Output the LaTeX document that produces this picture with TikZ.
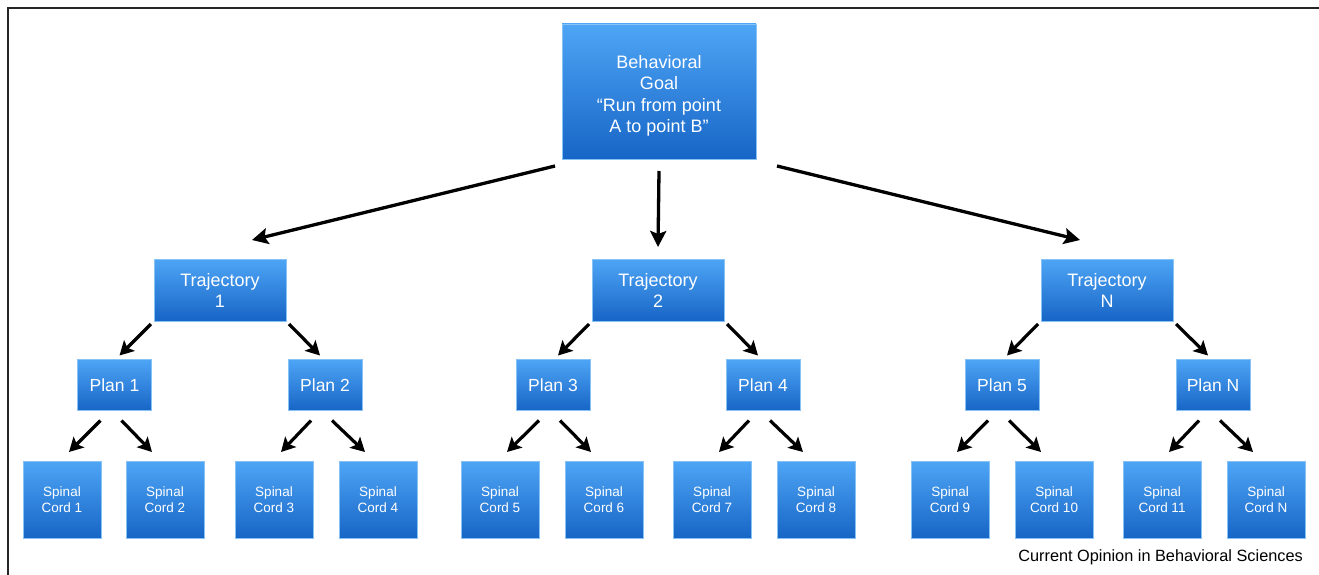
\documentclass[tikz,border=0pt]{standalone}
\usepackage{fontspec}
\setmainfont{Liberation Sans}
\usetikzlibrary{arrows.meta}
\definecolor{btop}{HTML}{4EA5F5}
\definecolor{bbot}{HTML}{1765C6}
\definecolor{bedge}{HTML}{86C2F5}
\tikzset{
  box/.style={draw=bedge, line width=0.8pt, top color=btop, bottom color=bbot,
    text=white, align=center, inner sep=0pt, outer sep=0pt},
  goalbox/.style={box, minimum width=194, minimum height=135, font=\fontsize{18}{21.5}\selectfont},
  trajbox/.style={box, minimum width=132, minimum height=62, font=\fontsize{18}{21}\selectfont},
  planbox/.style={box, minimum width=74, minimum height=51, font=\fontsize{17.5}{21}\selectfont},
  cordbox/.style={box, minimum width=78, minimum height=77, font=\fontsize{13.5}{16}\selectfont},
  arr/.style={line width=3.3pt, -{Stealth[length=16pt,width=16pt,inset=3pt]}},
  sarr/.style={line width=3.2pt, -{Stealth[length=14pt,width=15pt,inset=3pt]}},
}
\begin{document}
\begin{tikzpicture}[x=1pt,y=-1pt]
\useasboundingbox (0,0) rectangle (1319,575);
% frame
\draw[line width=1.6pt, black!85] (8,575) -- (8,8) -- (1319,8);
% goal
\node[goalbox] (goal) at (659,91.5) {\rule{0pt}{22pt}Behavioral\\Goal\\“Run from point\\A to point B”};
% trajectories
\node[trajbox] (t1) at (220,290) {Trajectory\\1};
\node[trajbox] (t2) at (658,290) {Trajectory\\2};
\node[trajbox] (tn) at (1107,290) {Trajectory\\N};
% plans
\node[planbox] (p1) at (114.5,385) {Plan 1};
\node[planbox] (p2) at (325,385) {Plan 2};
\node[planbox] (p3) at (553,385) {Plan 3};
\node[planbox] (p4) at (763,385) {Plan 4};
\node[planbox] (p5) at (1002,385) {Plan 5};
\node[planbox] (pn) at (1213,385) {Plan N};
% spinal cords
\node[cordbox] (s1) at (62,499.5) {Spinal\\Cord 1};
\node[cordbox] (s2) at (165,499.5) {Spinal\\Cord 2};
\node[cordbox] (s3) at (274,499.5) {Spinal\\Cord 3};
\node[cordbox] (s4) at (378,499.5) {Spinal\\Cord 4};
\node[cordbox] (s5) at (500,499.5) {Spinal\\Cord 5};
\node[cordbox] (s6) at (604,499.5) {Spinal\\Cord 6};
\node[cordbox] (s7) at (712,499.5) {Spinal\\Cord 7};
\node[cordbox] (s8) at (816,499.5) {Spinal\\Cord 8};
\node[cordbox] (s9) at (950,499.5) {Spinal\\Cord 9};
\node[cordbox] (s10) at (1054,499.5) {Spinal\\Cord 10};
\node[cordbox] (s11) at (1162,499.5) {Spinal\\Cord 11};
\node[cordbox] (sn) at (1266,499.5) {Spinal\\Cord N};
% caption
\node[anchor=east, font=\fontsize{16.3}{18}\selectfont, inner sep=0pt] (cap) at (1303,557) {Current Opinion in Behavioral Sciences};
% goal arrows
\draw[arr] ([shift={(-7,7)}]goal.south west) -- ([shift={(32,-19)}]t1.north);
\draw[arr] ([shift={(0,12)}]goal.south) -- ([shift={(0,-12)}]t2.north);
\draw[arr] ([shift={(21,7)}]goal.south east) -- ([shift={(-27,-19)}]tn.north);
% trajectory to plans
\foreach \t/\l/\r in {t1/p1/p2, t2/p3/p4, tn/p5/pn}{
  \draw[sarr] ([shift={(-3,3)}]\t.south west) -- ([shift={(5,-4)}]\l.north);
  \draw[sarr] ([shift={(3,3)}]\t.south east) -- ([shift={(-5,-4)}]\r.north);
}
% plans to spinal cords
\foreach \p/\l/\r in {p1/s1/s2, p2/s3/s4, p3/s5/s6, p4/s7/s8, p5/s9/s10, pn/s11/sn}{
  \draw[sarr] ([shift={(-14,10)}]\p.south) -- ([shift={(7,-9)}]\l.north);
  \draw[sarr] ([shift={(7,10)}]\p.south) -- ([shift={(-13,-9)}]\r.north);
}
\end{tikzpicture}
\end{document}
